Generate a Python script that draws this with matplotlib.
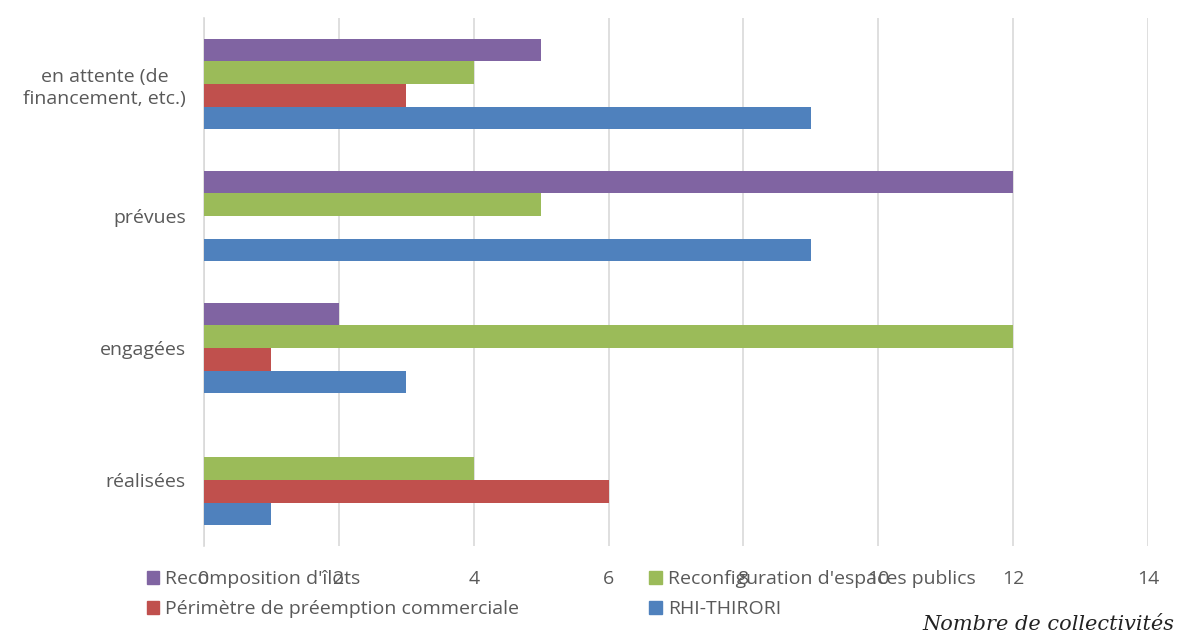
import numpy as np
import matplotlib.pyplot as plt
from matplotlib.patches import Patch

categories = ["réalisées", "engagées", "prévues", "en attente (de\nfinancement, etc.)"]
series = ["Recomposition d'îlots", "Reconfiguration d'espaces publics",
          "Périmètre de préemption commerciale", "RHI-THIRORI"]
recomposition = [0, 2, 12, 5]
reconfiguration = [4, 12, 5, 4]
perimetre = [6, 1, 0, 3]
rhi = [1, 3, 9, 9]
xticks = [0, 2, 4, 6, 8, 10, 12, 14]

colors = ["#8064A2", "#9BBB59", "#C0504D", "#4F81BD"]
values = [recomposition, reconfiguration, perimetre, rhi]

plt.rcParams['font.family'] = ['Open Sans', 'DejaVu Sans']
text_color = "#595959"

fig = plt.figure(figsize=(11.8, 6.34), dpi=100)
ax = fig.add_axes([204 / 1180, 1 - 546 / 634, 944 / 1180, 528 / 634])

y = np.arange(len(categories))
h = 0.172
offsets = [1.5 * h, 0.5 * h, -0.5 * h, -1.5 * h]
for vals, off, c in zip(values, offsets, colors):
    ax.barh(y + off, vals, height=h, color=c, zorder=3)

ax.set_xlim(0, 14)
ax.set_ylim(-0.5, 3.5)
ax.set_xticks(xticks)
ax.set_xticklabels([str(t) for t in xticks], fontsize=14, color=text_color)
ax.set_yticks(y)
ax.set_yticklabels(categories, fontsize=14, color=text_color,
                   linespacing=1.3, multialignment="center")
ax.tick_params(axis='x', length=0, pad=17)
ax.tick_params(axis='y', length=0, pad=13)
ax.grid(axis='x', color="#d9d9d9", linewidth=1.2, zorder=0)
for s in ["top", "right", "bottom"]:
    ax.spines[s].set_visible(False)
ax.spines["left"].set_color("#d9d9d9")
ax.spines["left"].set_linewidth(1.2)

# legend sits over the x tick labels, as in the original
handles = [Patch(color=c) for c in colors]
order = [0, 2, 1, 3]
fig.legend([handles[i] for i in order], [series[i] for i in order],
           loc="upper left", bbox_to_anchor=(129 / 1180, 1 - 553 / 634),
           ncol=2, frameon=False, fontsize=14, labelcolor=text_color,
           handlelength=0.65, handleheight=0.65, handletextpad=0.3,
           columnspacing=6.7, labelspacing=0.6)

fig.text(1174 / 1180, 1 - 624 / 634, "Nombre de collectivités", ha="right", va="center",
         fontsize=15, style="italic", family=["DejaVu Serif"], color="#222222")

fig.savefig("out.png", dpi=100)
